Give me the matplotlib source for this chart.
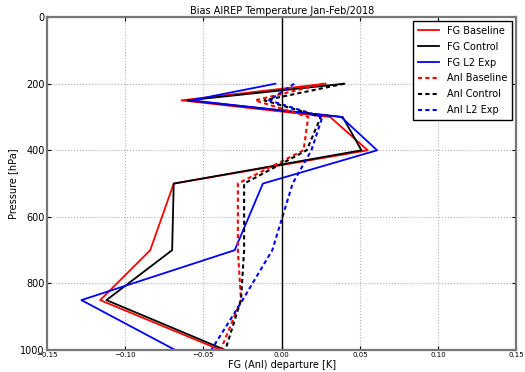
import matplotlib
matplotlib.use('Agg')
import matplotlib.pyplot as plt

# pressure levels [hPa]
levels = [200, 250, 300, 400, 500, 700, 850, 1000]

# first-guess departures [K]
fg_baseline = [0.028, -0.064, 0.031, 0.055, -0.069, -0.084, -0.116, -0.039]
fg_control = [0.040, -0.060, 0.039, 0.051, -0.069, -0.070, -0.112, -0.036]
fg_l2exp = [-0.004, -0.058, 0.038, 0.061, -0.012, -0.030, -0.128, -0.068]

# analysis departures [K]
anl_baseline = [0.027, -0.017, 0.017, 0.014, -0.028, -0.028, -0.026, -0.039]
anl_control = [0.040, -0.011, 0.025, 0.016, -0.024, -0.024, -0.026, -0.036]
anl_l2exp = [0.008, -0.008, 0.026, 0.019, 0.007, -0.006, -0.025, -0.045]

xticks = [-0.15, -0.10, -0.05, 0.00, 0.05, 0.10, 0.15]
yticks = [0, 200, 400, 600, 800, 1000]

fig = plt.figure(figsize=(5.25, 3.72), dpi=100)
ax = fig.add_axes([0.0895, 0.059, 0.894, 0.895])

dash = (0, (2, 1.5))
ax.plot(fg_baseline, levels, color='red', lw=1.3, label='FG Baseline')
ax.plot(fg_control, levels, color='black', lw=1.3, label='FG Control')
ax.plot(fg_l2exp, levels, color='blue', lw=1.3, label='FG L2 Exp')
ax.plot(anl_baseline, levels, color='red', lw=1.5, ls=dash, label='Anl Baseline')
ax.plot(anl_control, levels, color='black', lw=1.5, ls=dash, label='Anl Control')
ax.plot(anl_l2exp, levels, color='blue', lw=1.5, ls=dash, label='Anl L2 Exp')

ax.axvline(0, color='black', lw=1.0)

ax.set_xlim(-0.15, 0.15)
ax.set_ylim(1000, 0)
ax.set_xticks(xticks)
ax.set_xticklabels(['%.2f' % t if t >= 0 else '\u2212%.2f' % -t for t in xticks], fontsize=5)
ax.set_yticks(yticks)
ax.tick_params(axis='y', labelsize=7)
ax.tick_params(direction='in', length=3, width=0.8, top=True, right=True, pad=1.5)
ax.grid(True, color='#b0b0b0', ls=':', lw=0.8)

for s in ax.spines.values():
    s.set_color('#777777')
    s.set_linewidth(1.6)

ax.set_title('Bias AIREP Temperature Jan-Feb/2018', fontsize=7, pad=2)
ax.set_xlabel('FG (Anl) departure [K]', fontsize=7, labelpad=1)
ax.set_ylabel('Pressure [hPa]', fontsize=7, labelpad=2)

leg = ax.legend(loc='upper right', fontsize=7, fancybox=False, framealpha=1,
                handlelength=2.2, borderpad=0.5, labelspacing=0.6,
                borderaxespad=0.4)
leg.get_frame().set_edgecolor('black')
leg.get_frame().set_linewidth(1.0)

fig.savefig('out.png', dpi=100)
